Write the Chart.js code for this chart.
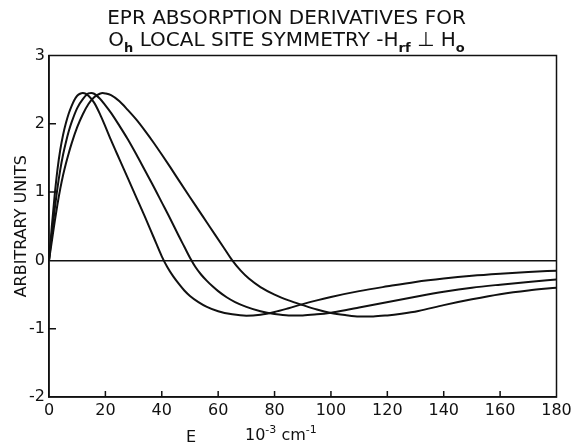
<!DOCTYPE html>
<html>
<head>
<meta charset="utf-8">
<script src="https://cdn.jsdelivr.net/npm/chart.js@4.4.1/dist/chart.umd.min.js"></script>
<style>
  html, body { margin: 0; padding: 0; background: #fff; }
  #wrap { width: 573px; height: 446px; }
</style>
</head>
<body>
<div id="wrap"><canvas id="epr" width="573" height="446"></canvas></div>
<script>
// three derivative curves, E in 10^-3 cm^-1
const e1 = [0, 1, 2, 3, 4, 5, 6, 7, 8, 9, 10, 11, 12, 13, 14, 16, 18, 20, 22, 25, 28, 31, 34, 37, 40, 42, 44, 46, 48, 50, 53, 56, 60, 65, 70, 75, 80, 85, 90, 95, 100, 110, 120, 130, 140, 150, 160, 170, 180];
const v1 = [0, 0.5, 0.95, 1.33, 1.62, 1.84, 2.01, 2.15, 2.26, 2.35, 2.41, 2.44, 2.45, 2.44, 2.41, 2.31, 2.15, 1.96, 1.76, 1.48, 1.2, 0.92, 0.64, 0.35, 0.06, -0.1, -0.23, -0.34, -0.44, -0.52, -0.61, -0.68, -0.745, -0.79, -0.81, -0.795, -0.755, -0.7, -0.64, -0.585, -0.535, -0.45, -0.38, -0.315, -0.265, -0.225, -0.195, -0.17, -0.15];

const e2 = [0, 1, 2, 3, 4, 5, 6, 7, 8, 10, 12, 14, 15, 16, 18, 20, 22, 25, 28, 31, 34, 37, 40, 43, 46, 48, 50, 52, 54, 56, 58, 60, 63, 66, 70, 75, 80, 85, 90, 95, 100, 105, 110, 117, 124, 131, 140, 150, 160, 170, 180];
const v2 = [0, 0.38, 0.74, 1.06, 1.33, 1.55, 1.73, 1.89, 2.02, 2.23, 2.36, 2.445, 2.45, 2.44, 2.37, 2.27, 2.16, 1.97, 1.77, 1.55, 1.32, 1.09, 0.85, 0.61, 0.36, 0.2, 0.04, -0.1, -0.21, -0.3, -0.38, -0.45, -0.54, -0.61, -0.68, -0.745, -0.785, -0.805, -0.805, -0.79, -0.765, -0.73, -0.69, -0.635, -0.58, -0.525, -0.46, -0.4, -0.355, -0.315, -0.28];

const e3 = [0, 1, 2, 3, 4, 5, 6, 7, 8, 10, 12, 14, 16, 18, 19, 20, 22, 25, 28, 31, 34, 37, 40, 43, 46, 50, 53, 56, 59, 62, 65, 68, 71, 75, 80, 85, 90, 95, 100, 105, 110, 115, 120, 125, 131, 140, 150, 160, 170, 180];
const v3 = [0, 0.28, 0.56, 0.82, 1.05, 1.25, 1.42, 1.57, 1.71, 1.95, 2.14, 2.29, 2.39, 2.44, 2.45, 2.445, 2.42, 2.33, 2.2, 2.06, 1.9, 1.73, 1.55, 1.365, 1.175, 0.925, 0.74, 0.555, 0.37, 0.185, 0, -0.15, -0.27, -0.39, -0.5, -0.585, -0.655, -0.72, -0.77, -0.8, -0.82, -0.82, -0.805, -0.78, -0.74, -0.655, -0.57, -0.495, -0.44, -0.4];

const xTicks = [0, 20, 40, 60, 80, 100, 120, 140, 160, 180];
const yTicks = [-2, -1, 0, 1, 2, 3];

const FONT = "'DejaVu Sans', sans-serif";
const INK = "#111";

function pts(xs, ys) {
  return xs.map((x, i) => ({ x, y: ys[i] }));
}

function curve(xs, ys) {
  return {
    data: pts(xs, ys),
    borderColor: INK,
    borderWidth: 2,
    pointRadius: 0,
    fill: false,
    cubicInterpolationMode: "monotone",
  };
}

// text with sub/superscripts on the canvas
function drawRich(ctx, parts, x, y, align, base, small) {
  let w = 0;
  parts.forEach((p) => {
    ctx.font = p.s ? small : base;
    w += ctx.measureText(p.t).width;
  });
  let cx = align === "center" ? x - w / 2 : x;
  parts.forEach((p) => {
    ctx.font = p.s ? small : base;
    const dy = p.s === "sub" ? 6 : p.s === "sup" ? -7 : 0;
    ctx.fillText(p.t, cx, y + dy);
    cx += ctx.measureText(p.t).width;
  });
}

const framePlugin = {
  id: "frame",
  beforeDraw(chart) {
    const ctx = chart.ctx;
    ctx.save();
    ctx.fillStyle = "#fff";
    ctx.fillRect(0, 0, chart.width, chart.height);
    ctx.restore();
  },
  afterDraw(chart) {
    const { ctx, chartArea: a, scales } = chart;
    ctx.save();
    ctx.strokeStyle = INK;
    ctx.lineWidth = 1.5;
    ctx.strokeRect(a.left, a.top, a.right - a.left, a.bottom - a.top);

    // inward tick marks
    ctx.beginPath();
    scales.x.ticks.forEach((t) => {
      if (t.value <= 0 || t.value >= 180) return;
      const px = scales.x.getPixelForValue(t.value);
      ctx.moveTo(px, a.bottom);
      ctx.lineTo(px, a.bottom - 6);
    });
    scales.y.ticks.forEach((t) => {
      if (t.value <= -2 || t.value >= 3 || t.value === 0) return;
      const py = scales.y.getPixelForValue(t.value);
      ctx.moveTo(a.left, py);
      ctx.lineTo(a.left + 7, py);
    });
    ctx.stroke();

    // title
    ctx.fillStyle = INK;
    ctx.textBaseline = "alphabetic";
    const cx = chart.width / 2;
    drawRich(ctx, [{ t: "EPR ABSORPTION DERIVATIVES FOR" }], cx, 24, "center", `20px ${FONT}`, `13px ${FONT}`);
    drawRich(
      ctx,
      [
        { t: "O" }, { t: "h", s: "sub" },
        { t: " LOCAL SITE SYMMETRY -" },
        { t: "H" }, { t: "rf", s: "sub" },
        { t: " \u22A5 " },
        { t: "H" }, { t: "o", s: "sub" },
      ],
      cx, 46, "center", `20px ${FONT}`, `bold 13px ${FONT}`
    );

    // x axis label
    drawRich(ctx, [{ t: "E" }], 186, 442, "left", `16px ${FONT}`, `11px ${FONT}`);
    drawRich(
      ctx,
      [{ t: "10" }, { t: "-3", s: "sup" }, { t: " cm" }, { t: "-1", s: "sup" }],
      245, 440, "left", `16px ${FONT}`, `11px ${FONT}`
    );
    ctx.restore();
  },
};

new Chart(document.getElementById("epr"), {
  type: "line",
  data: {
    datasets: [curve(e1, v1), curve(e2, v2), curve(e3, v3)],
  },
  options: {
    responsive: false,
    animation: false,
    layout: { padding: { left: 12, right: 16.5, top: 55.5, bottom: 0 } },
    plugins: { legend: { display: false }, tooltip: { enabled: false }, title: { display: false } },
    scales: {
      x: {
        type: "linear",
        min: xTicks[0],
        max: xTicks[xTicks.length - 1],
        afterBuildTicks: (s) => { s.ticks = xTicks.map((v) => ({ value: v })); },
        afterFit: (s) => { s.height = 49; s.paddingLeft = 0; s.paddingRight = 0; },
        grid: { display: false, drawTicks: false },
        border: { display: true, color: INK, width: 1.5 },
        ticks: { color: INK, font: { family: FONT, size: 16 }, padding: 4, maxRotation: 0 },
      },
      y: {
        type: "linear",
        min: yTicks[0],
        max: yTicks[yTicks.length - 1],
        afterBuildTicks: (s) => { s.ticks = yTicks.map((v) => ({ value: v })); },
        afterFit: (s) => { s.width = 37; s.paddingTop = 0; s.paddingBottom = 0; },
        grid: {
          drawTicks: false,
          color: (c) => (c.tick && c.tick.value === 0 ? INK : "rgba(0,0,0,0)"),
          lineWidth: 1.5,
        },
        border: { display: true, color: INK, width: 1.5 },
        ticks: { color: INK, font: { family: FONT, size: 16 }, padding: 4 },
        title: {
          display: true,
          text: "ARBITRARY UNITS",
          color: INK,
          font: { family: FONT, size: 16 },
          padding: 0,
        },
      },
    },
  },
  plugins: [framePlugin],
});
</script>
</body>
</html>
